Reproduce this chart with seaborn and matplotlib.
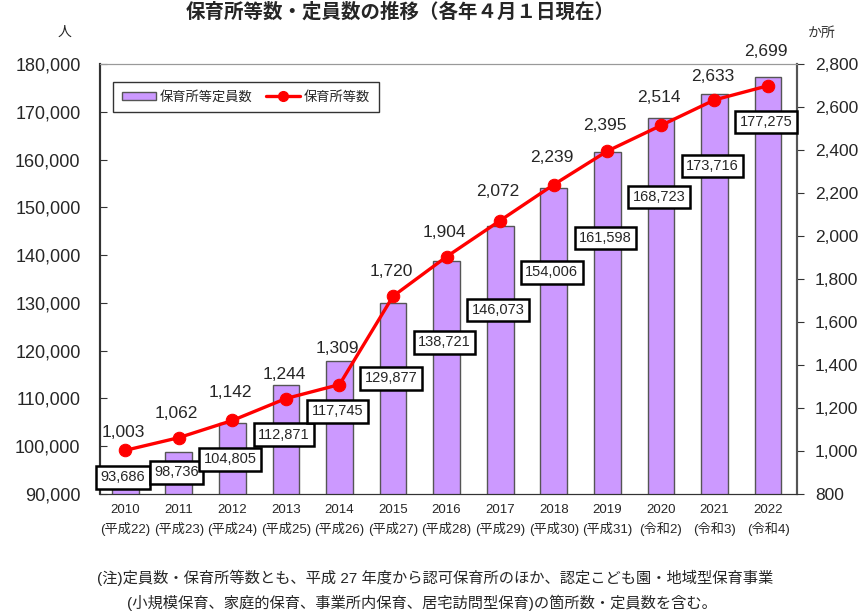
import matplotlib.pyplot as plt
import numpy as np
import seaborn as sns
from matplotlib.lines import Line2D
from matplotlib.patches import Patch

years = ["2010", "2011", "2012", "2013", "2014", "2015", "2016",
         "2017", "2018", "2019", "2020", "2021", "2022"]
eras = ["平成22", "平成23", "平成24", "平成25", "平成26", "平成27", "平成28",
        "平成29", "平成30", "平成31", "令和2", "令和3", "令和4"]
capacity = [93686, 98736, 104805, 112871, 117745, 129877, 138721,
            146073, 154006, 161598, 168723, 173716, 177275]
facilities = [1003, 1062, 1142, 1244, 1309, 1720, 1904,
              2072, 2239, 2395, 2514, 2633, 2699]

# label placement (pixels relative to the mark)
cap_label_dy = [-1, -20, -36, -50, -50, -75, -81, -84, -84, -86, -79, -72, -45]
fac_label_dy = [18, 24, 28, 24, 36, 25, 24, 29, 27, 26, 28, 23, 34]

BAR = "#cc99ff"
RED = "#ff0000"

sns.set_style("white")
plt.rcParams["font.family"] = ["Liberation Sans", "Noto Sans CJK JP"]

fig = plt.figure(figsize=(8.58, 6.15), dpi=100)
ax = fig.add_axes([100 / 858, 1 - 494 / 615, 697 / 858, 430 / 615])

x = np.arange(len(years))
sns.barplot(x=x, y=capacity, ax=ax, color=BAR, edgecolor="#555555",
            linewidth=1, width=0.5, saturation=1)
ax.set_ylim(90000, 180000)
ax.set_xlim(-0.47, 12.54)
ax.set_yticks(np.arange(90000, 180001, 10000))
ax.set_yticklabels([f"{v:,}" for v in range(90000, 180001, 10000)], fontsize=13)
ax.tick_params(axis="y", direction="in", length=5, pad=14, color="#333333")
ax.set_xticks(x)
ax.set_xticklabels([f"{y}\n({e})" for y, e in zip(years, eras)], fontsize=9.5,
                   linespacing=1.55)
ax.tick_params(axis="x", length=0, pad=7)
ax.set_xticks(np.arange(-0.5, 12.5, 1) + 1, minor=True)
ax.tick_params(axis="x", which="minor", direction="in", length=5, color="#333333")

ax2 = ax.twinx()
sns.lineplot(x=x, y=facilities, ax=ax2, color=RED, linewidth=2.4,
             marker="o", markersize=9, markeredgecolor=RED)
ax2.set_ylim(800, 2800)
ax2.set_xlim(-0.47, 12.54)
ax2.set_yticks(np.arange(800, 2801, 200))
ax2.set_yticklabels([f"{v:,}" for v in range(800, 2801, 200)], fontsize=12.5)
ax2.tick_params(axis="y", direction="out", length=5, pad=8, color="#333333")

for a in (ax, ax2):
    a.spines["top"].set_color("#999999")
    a.spines["left"].set_color("#333333")
    a.spines["right"].set_color("#555555")
    a.spines["bottom"].set_color("#333333")
    a.spines["right"].set_linewidth(1.5)
    a.spines["left"].set_linewidth(1.5)

for i, v in enumerate(facilities):
    ax2.annotate(f"{v:,}", (x[i], v), xytext=(-2, fac_label_dy[i]),
                 textcoords="offset pixels", ha="center", va="center",
                 fontsize=12.5)

for i, v in enumerate(capacity):
    ax2.annotate(f"{v:,}", (x[i], v), xycoords=ax.transData,
                 xytext=(-2, cap_label_dy[i]), textcoords="offset pixels",
                 ha="center", va="center", fontsize=10.5,
                 bbox=dict(boxstyle="square,pad=0.3", fc="white",
                           ec="black", lw=1.8))

handles = [Patch(facecolor=BAR, edgecolor="#555555", label="保育所等定員数"),
           Line2D([0], [0], color=RED, lw=2.4, marker="o", markersize=7,
                  label="保育所等数")]
leg = ax2.legend(handles=handles, loc="upper left", ncol=2,
                 bbox_to_anchor=(113 / 858, 1 - 82 / 615),
                 bbox_transform=fig.transFigure, borderaxespad=0,
                 fontsize=9.5, frameon=True, fancybox=False,
                 handlelength=2.6, handleheight=0.6, columnspacing=1.0,
                 handletextpad=0.3, borderpad=0.65)
leg.get_frame().set_edgecolor("black")
leg.get_frame().set_linewidth(1)

fig.text(400 / 858, 1 - 12 / 615, "保育所等数・定員数の推移（各年４月１日現在）",
         ha="center", va="center", fontsize=14, fontweight="bold")
fig.text(65 / 858, 1 - 32 / 615, "人", ha="center", va="center", fontsize=10)
fig.text(822 / 858, 1 - 33 / 615, "か所", ha="center", va="center",
         fontsize=10, color="#333333")

fig.text(97 / 858, 1 - 578 / 615,
         "(注)定員数・保育所等数とも、平成 27 年度から認可保育所のほか、認定こども園・地域型保育事業",
         ha="left", va="center", fontsize=11)
fig.text(127 / 858, 1 - 603 / 615,
         "(小規模保育、家庭的保育、事業所内保育、居宅訪問型保育)の箇所数・定員数を含む。",
         ha="left", va="center", fontsize=11)

fig.savefig("out.png", dpi=100)
